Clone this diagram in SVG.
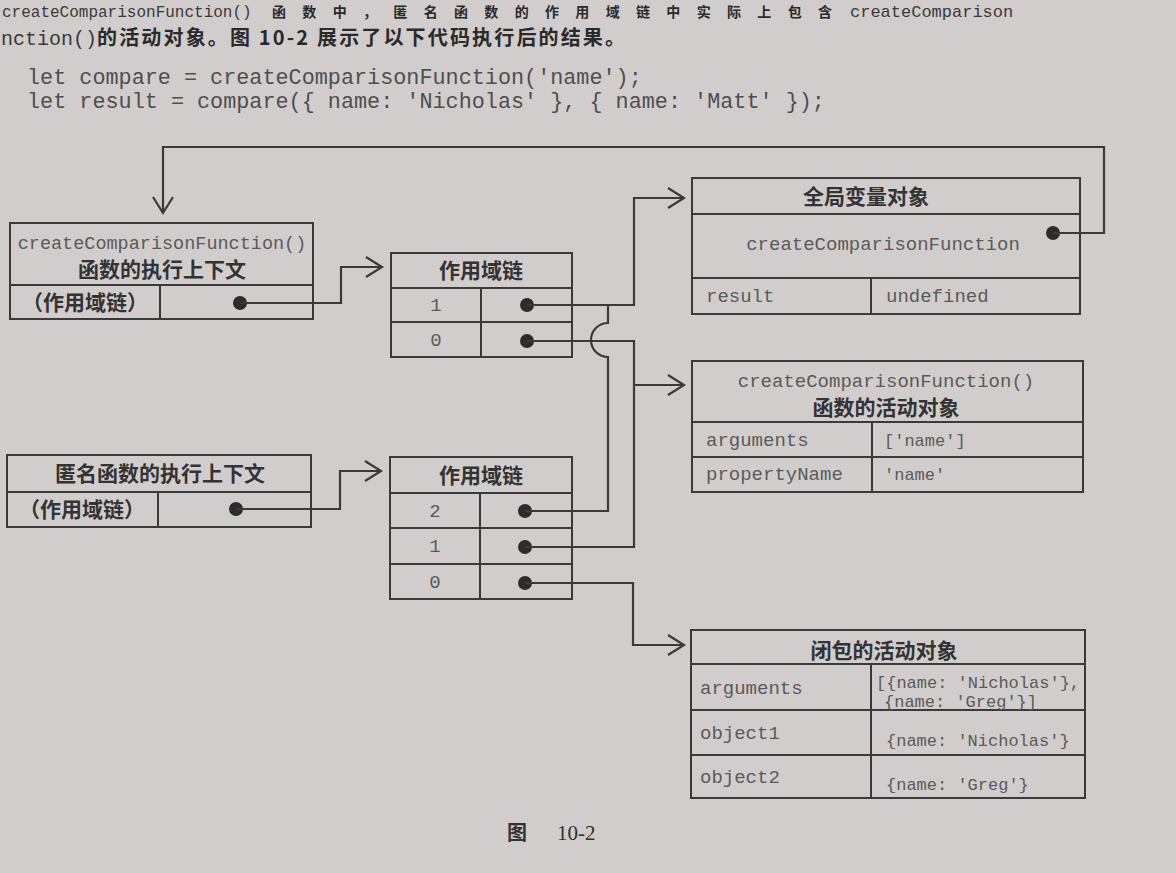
<svg xmlns="http://www.w3.org/2000/svg" width="1176" height="873" viewBox="0 0 1176 873">
<style>
.box{fill:none;stroke:#3a3a3a;stroke-width:2}
.ln{fill:none;stroke:#3a3a3a;stroke-width:2.2}
.dot{fill:#2c2c2c}
.mono{font-family:"Liberation Mono","DejaVu Sans Mono",monospace;fill:#5a5a5a}
.cjk{font-family:"Noto Sans CJK SC","Noto Sans CJK JP",sans-serif;fill:#333333;font-weight:bold}
.body{font-family:"Noto Sans CJK SC",sans-serif;fill:#2a2a2a;font-weight:bold}
.bm{font-family:"Liberation Mono",monospace;fill:#3a3a3a}
.code{font-family:"Liberation Mono",monospace;fill:#4e4e4e;font-size:21.8px}
.mid{text-anchor:middle}
.h{font-size:21px}
.m19{font-size:19px}
.m17{font-size:17px}
</style>
<defs>
<marker id="arr" markerUnits="userSpaceOnUse" markerWidth="20" markerHeight="24" refX="17" refY="11" orient="auto" overflow="visible">
<path d="M1,1 L17,11 L1,21" fill="none" stroke="#3a3a3a" stroke-width="2.2"/>
</marker>
</defs>
<rect x="0" y="0" width="1176" height="873" fill="#d1cdcc"/>

<g id="page-text">
<text class="bm" x="2" y="17" style="font-size:16px">createComparisonFunction()</text>
<text class="body" x="272" y="17" style="font-size:14px" textLength="560" lengthAdjust="spacing">函数中，匿名函数的作用域链中实际上包含</text>
<text class="bm" x="850" y="17" style="font-size:17px">createComparison</text>
<text x="1" y="45"><tspan class="bm" style="font-size:20px">nction()</tspan><tspan class="body" style="font-size:20px" textLength="528" lengthAdjust="spacing">的活动对象。图 10-2 展示了以下代码执行后的结果。</tspan></text>
<text class="code" x="27" y="84">let compare = createComparisonFunction('name');</text>
<text class="code" x="27" y="108">let result = compare({ name: 'Nicholas' }, { name: 'Matt' });</text>
</g>

<g id="ctx1">
<rect class="box" x="10" y="223" width="303" height="96"/>
<line class="box" x1="10" y1="285" x2="313" y2="285"/>
<line class="box" x1="160" y1="285" x2="160" y2="319"/>
<text class="mono mid" x="162" y="249" style="font-size:18.5px">createComparisonFunction()</text>
<text class="cjk mid h" x="162" y="277">函数的执行上下文</text>
<text class="cjk mid h" x="85" y="310">（作用域链）</text>
<circle class="dot" cx="240" cy="303" r="7"/>
</g>

<g id="ctx2">
<rect class="box" x="7" y="455" width="304" height="72"/>
<line class="box" x1="7" y1="492" x2="311" y2="492"/>
<line class="box" x1="158" y1="492" x2="158" y2="527"/>
<text class="cjk mid h" x="160" y="481">匿名函数的执行上下文</text>
<text class="cjk mid h" x="82" y="517">（作用域链）</text>
<circle class="dot" cx="236" cy="509" r="7"/>
</g>

<g id="chain1">
<rect class="box" x="391" y="253" width="181" height="104"/>
<line class="box" x1="391" y1="288" x2="572" y2="288"/>
<line class="box" x1="391" y1="322" x2="572" y2="322"/>
<line class="box" x1="481" y1="288" x2="481" y2="357"/>
<text class="cjk mid h" x="481" y="278">作用域链</text>
<text class="mono mid m19" x="436" y="311">1</text>
<text class="mono mid m19" x="436" y="346">0</text>
<circle class="dot" cx="527" cy="305" r="7"/>
<circle class="dot" cx="527" cy="341" r="7"/>
</g>

<g id="chain2">
<rect class="box" x="390" y="457" width="182" height="142"/>
<line class="box" x1="390" y1="493" x2="572" y2="493"/>
<line class="box" x1="390" y1="528" x2="572" y2="528"/>
<line class="box" x1="390" y1="564" x2="572" y2="564"/>
<line class="box" x1="480" y1="493" x2="480" y2="599"/>
<text class="cjk mid h" x="481" y="483">作用域链</text>
<text class="mono mid m19" x="435" y="517">2</text>
<text class="mono mid m19" x="435" y="552">1</text>
<text class="mono mid m19" x="435" y="588">0</text>
<circle class="dot" cx="525" cy="511" r="7"/>
<circle class="dot" cx="525" cy="547" r="7"/>
<circle class="dot" cx="525" cy="583" r="7"/>
</g>

<g id="global-object">
<rect class="box" x="692" y="178" width="388" height="136"/>
<line class="box" x1="692" y1="214" x2="1080" y2="214"/>
<line class="box" x1="692" y1="278" x2="1080" y2="278"/>
<line class="box" x1="871" y1="278" x2="871" y2="314"/>
<text class="cjk mid h" x="866" y="204">全局变量对象</text>
<text class="mono mid m19" x="883" y="250">createComparisonFunction</text>
<text class="mono m19" x="706" y="302">result</text>
<text class="mono m19" x="886" y="302">undefined</text>
<circle class="dot" cx="1053" cy="233" r="7"/>
</g>

<g id="activation-object">
<rect class="box" x="692" y="361" width="391" height="131"/>
<line class="box" x1="692" y1="422" x2="1083" y2="422"/>
<line class="box" x1="692" y1="457" x2="1083" y2="457"/>
<line class="box" x1="872" y1="422" x2="872" y2="492"/>
<text class="mono mid m19" x="886" y="387">createComparisonFunction()</text>
<text class="cjk mid h" x="886" y="415">函数的活动对象</text>
<text class="mono m19" x="706" y="446">arguments</text>
<text class="mono m17" x="884" y="446">['name']</text>
<text class="mono m19" x="706" y="480">propertyName</text>
<text class="mono m17" x="884" y="480">'name'</text>
</g>

<g id="closure-object">
<rect class="box" x="691" y="630" width="394" height="168"/>
<line class="box" x1="691" y1="664" x2="1085" y2="664"/>
<line class="box" x1="691" y1="710" x2="1085" y2="710"/>
<line class="box" x1="691" y1="755" x2="1085" y2="755"/>
<line class="box" x1="871" y1="664" x2="871" y2="798"/>
<text class="cjk mid h" x="884" y="658">闭包的活动对象</text>
<text class="mono m19" x="700" y="694">arguments</text>
<text class="mono m17" x="876" y="688">[{name: 'Nicholas'},</text>
<text class="mono m17" x="884" y="707">{name: 'Greg'}]</text>
<text class="mono m19" x="700" y="739">object1</text>
<text class="mono m17" x="886" y="746">{name: 'Nicholas'}</text>
<text class="mono m19" x="700" y="783">object2</text>
<text class="mono m17" x="886" y="790">{name: 'Greg'}</text>
</g>

<g id="connectors">
<path class="ln" d="M1053,233 H1104 V147 H163 V213" marker-end="url(#arr)"/>
<path class="ln" d="M240,303 H341 V267 H382" marker-end="url(#arr)"/>
<path class="ln" d="M236,509 H340 V471 H381" marker-end="url(#arr)"/>
<path class="ln" d="M527,305 H634 V198 H684" marker-end="url(#arr)"/>
<path class="ln" d="M525,511 H608 V357 A17,17 0 0 1 608,323 V305"/>
<path class="ln" d="M527,341 H634 V547 H525"/>
<path class="ln" d="M634,385 H684" marker-end="url(#arr)"/>
<path class="ln" d="M525,583 H633 V645 H684" marker-end="url(#arr)"/>
</g>

<g id="caption">
<text x="507" y="840"><tspan class="cjk" style="font-size:20px">图</tspan><tspan x="557" style="font-family:'Liberation Serif',serif;font-size:21px;fill:#2e2e2e">10-2</tspan></text>
</g>
</svg>
